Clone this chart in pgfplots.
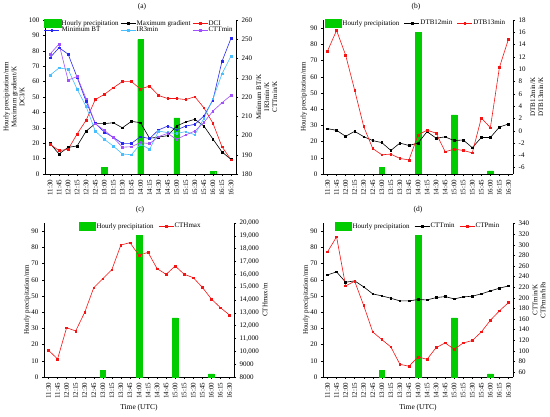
\documentclass[border=0pt]{standalone}
\usepackage{fontspec}
\setmainfont{Liberation Serif}
\usepackage{pgfplots}
\usepackage{pgfplotstable}
\pgfplotsset{compat=1.18}

\definecolor{bargreen}{RGB}{0,204,0}
\definecolor{cred}{RGB}{245,20,20}
\definecolor{cblue}{RGB}{40,40,245}
\definecolor{clblue}{RGB}{70,190,255}
\definecolor{cpurp}{RGB}{160,80,255}

\newcommand\tf{\fontsize{7}{8}\selectfont}
\newcommand\lf{\fontsize{7.5}{8.3}\selectfont}

\pgfplotstableread{
i grad dci bt ir3 ctt
0 19.9 19.3 240.4 231.3 242.3
1 13.0 15.2 245.6 235.1 247.5
2 17.3 16.0 242.3 234.4 228.8
3 18.2 26.0 230.2 224.0 230.6
4 27.9 35.0 217.6 215.0 219.0
5 32.7 48.3 206.3 202.3 206.1
6 32.7 51.7 201.8 198.0 202.7
7 33.3 56.0 199.0 194.5 198.9
8 30.0 60.0 195.9 190.4 193.9
9 34.2 60.0 195.9 190.0 194.2
10 33.3 55.2 199.4 195.6 196.3
11 23.2 57.1 198.4 192.8 195.8
12 24.0 51.0 202.9 202.3 199.4
13 24.9 49.0 204.9 201.5 201.1
14 31.2 49.0 202.9 201.1 198.0
15 33.8 48.3 204.9 202.0 200.3
16 35.5 50.2 205.8 200.4 202.3
17 31.2 43.0 210.1 208.9 206.8
18 22.7 33.0 218.4 219.0 212.7
19 14.3 17.7 238.5 232.0 217.0
20 9.5 9.3 250.5 241.3 220.9
}\tabA

\pgfplotstableread{
i dtb12 dtb13
0 0.34 12.96
1 0.07 16.3
2 -0.9 12.3
3 -0.1 6.6
4 -0.96 0.67
5 -1.6 -2.9
6 -1.93 -3.9
7 -3.2 -3.8
8 -2.0 -4.5
9 -2.4 -4.75
10 -2.0 -0.7
11 -0.15 0.1
12 -1.2 -0.4
13 -1.0 -3.4
14 -1.6 -3.0
15 -1.5 -3.2
16 -2.75 -3.6
17 -1.1 2.07
18 -1.1 0.5
19 0.6 10.3
20 1.1 14.9
}\tabB

\pgfplotstableread{
i cth
0 10078
1 9403
2 11844
3 11584
4 13039
5 14961
6 15662
7 16364
8 18286
9 18468
10 17480
11 17714
12 16442
13 16000
14 16649
15 16000
16 15740
17 14987
18 14078
19 13403
20 12831
}\tabC

\pgfplotstableread{
i ctt ctp
0 243.1 286.6
1 248.8 314.9
2 229.3 222.4
3 231.8 231.2
4 220.5 185.2
5 207.3 135.5
6 203.5 121.0
7 199.1 107.2
8 194.0 74.5
9 194.0 70.7
10 196.6 88.3
11 195.9 83.9
12 200.3 105.9
13 202.2 114.8
14 197.8 102.8
15 201.6 114.8
16 202.9 119.2
17 207.3 135.5
18 212.9 157.5
19 218.0 175.2
20 222.4 190.9
}\tabD

\pgfplotstableread{
i p
6 4.3
10 87.3
14 36.5
18 1.9
}\tabP

\pgfplotsset{
  common/.style={scale only axis, height=154pt, xmin=-0.5, xmax=20.5,
    /pgf/number format/assume math mode=true,
    scaled y ticks=false,
    tick align=outside, major tick length=2.2pt,
    tick style={black, line width=0.4pt},
    axis line style={black, line width=0.5pt},
    ticklabel style={font=\tf},
    label style={font=\tf},
    legend style={font=\tf, draw=none, fill=none, inner sep=0pt, outer sep=0pt,
      nodes={inner sep=0.7pt}, row sep=-1pt},
    legend cell align=left,
    legend image code/.code={\draw[mark repeat=2,mark phase=2,##1] plot coordinates {(0pt,0pt) (7.5pt,0pt) (15pt,0pt)};},
  },
  leftax/.style={common, axis x line*=bottom, axis y line*=left,
    xtick={0,...,20},
    xticklabels={11:30,11:45,12:00,12:15,12:30,12:45,13:00,13:15,13:30,13:45,14:00,14:15,14:30,14:45,15:00,15:15,15:30,15:45,16:00,16:15,16:30},
    x tick label style={rotate=90, anchor=east, font=\tf}},
  rightax/.style={common, axis x line=none, axis y line*=right},
  bar/.style={ybar, bar width=5.6pt, bar shift=0pt, fill=bargreen, draw=bargreen, line width=0.3pt},
  barleg/.style={fill=bargreen, draw=bargreen, legend image code/.code={\draw[##1] (0pt,-3.6pt) rectangle (16.5pt,4pt);}},
  ln/.style={line width=0.6pt, mark=square*, mark size=0.85pt, mark options={solid}},
}

\begin{document}
\begin{tikzpicture}
\useasboundingbox (0,0) rectangle (550pt,416pt);

% ---------------- (a)
\begin{axis}[leftax, at={(45pt,242pt)}, anchor=south west, width=191pt,
  xmin=-0.55, xmax=20.55, ymin=0, ymax=100, ytick={0,10,...,100},
  ylabel={Hourly precipitation/mm\\Maximum gradient/K\\DCI/K},
  ylabel style={at={(axis description cs:-0.162,0.5)}, anchor=center, align=center}]
\addplot[bar] table[x=i,y=p]{\tabP};
\addplot[ln, black] table[x=i,y=grad]{\tabA};
\addplot[ln, cred] table[x=i,y=dci]{\tabA};
\end{axis}
\begin{axis}[rightax, at={(45pt,242pt)}, anchor=south west, width=191pt,
  xmin=-0.55, xmax=20.55, ymin=180, ymax=260, ytick={180,190,...,260},
  ylabel={Minimum BT/K\\IR3min/K\\CTTmin/K},
  ylabel style={at={(axis description cs:1.162,0.5)}, anchor=center, align=center},
  legend columns=3,
  legend style={at={(axis description cs:-0.005,1.005)}, anchor=north west,
    /tikz/every even column/.append style={column sep=1pt}}]
\addlegendimage{barleg}\addlegendentry{Hourly precipitation}
\addlegendimage{ln, black}\addlegendentry{Maximum gradient}
\addlegendimage{ln, cred}\addlegendentry{DCI}
\addplot[ln, cblue] table[x=i,y=bt]{\tabA};\addlegendentry{Minimum BT}
\addplot[ln, clblue] table[x=i,y=ir3]{\tabA};\addlegendentry{IR3min}
\addplot[ln, cpurp] table[x=i,y=ctt]{\tabA};\addlegendentry{CTTmin}
\end{axis}

% ---------------- (b)
\begin{axis}[leftax, at={(323pt,242pt)}, anchor=south west, width=190pt,
  ymin=0, ymax=95.1, ytick={0,10,...,90},
  ylabel={Hourly precipitation/mm},
  ylabel style={at={(axis description cs:-0.1,0.5)}, anchor=center, align=center}]
\addplot[bar] table[x=i,y=p]{\tabP};
\end{axis}
\begin{axis}[rightax, at={(323pt,242pt)}, anchor=south west, width=190pt,
  ymin=-7.03, ymax=18, ytick={-6,-4,...,18},
  ylabel={DTB12min/K\\DTB13min/K},
  ylabel style={at={(axis description cs:1.125,0.5)}, anchor=center, align=center},
  legend columns=3,
  legend style={at={(axis description cs:0.01,1.005)}, anchor=north west,
    /tikz/every even column/.append style={column sep=4pt}}]
\addlegendimage{barleg}\addlegendentry{Hourly precipitation}
\addplot[ln, black] table[x=i,y=dtb12]{\tabB};\addlegendentry{DTB12min}
\addplot[ln, cred] table[x=i,y=dtb13]{\tabB};\addlegendentry{DTB13min}
\end{axis}

% ---------------- (c)
\begin{axis}[leftax, at={(44pt,39pt)}, anchor=south west, width=190pt,
  ymin=0, ymax=95, ytick={0,10,...,90},
  ylabel={Hourly precipitation/mm},
  ylabel style={at={(axis description cs:-0.089,0.5)}, anchor=center, align=center},
  xlabel={Time (UTC)},
  xlabel style={at={(axis description cs:0.5,-0.2)}, anchor=center, font=\lf}]
\addplot[bar] table[x=i,y=p]{\tabP};
\end{axis}
\begin{axis}[rightax, at={(44pt,39pt)}, anchor=south west, width=190pt,
  ymin=8000, ymax=20000, ytick={8000,9000,...,20000},
  /pgf/number format/1000 sep={,},
  /pgf/number format/min exponent for 1000 sep=4,
  ylabel={CTHmax/m},
  ylabel style={at={(axis description cs:1.163,0.5)}, anchor=center, align=center},
  legend columns=2,
  legend style={at={(axis description cs:0.184,1.005)}, anchor=north west,
    /tikz/every even column/.append style={column sep=4pt}}]
\addlegendimage{barleg}\addlegendentry{Hourly precipitation}
\addplot[ln, cred] table[x=i,y=cth]{\tabC};\addlegendentry{CTHmax}
\end{axis}

% ---------------- (d)
\begin{axis}[leftax, at={(323pt,39pt)}, anchor=south west, width=190pt,
  ymin=0, ymax=95, ytick={0,10,...,90},
  ylabel={Hourly precipitation/mm},
  ylabel style={at={(axis description cs:-0.089,0.5)}, anchor=center, align=center},
  xlabel={Time (UTC)},
  xlabel style={at={(axis description cs:0.5,-0.2)}, anchor=center, font=\lf}]
\addplot[bar] table[x=i,y=p]{\tabP};
\end{axis}
\begin{axis}[rightax, at={(323pt,39pt)}, anchor=south west, width=190pt,
  ymin=50.5, ymax=341, ytick={60,80,...,340},
  ylabel={CTTmin/K\\CTPmin/hPa},
  ylabel style={at={(axis description cs:1.137,0.5)}, anchor=center, align=center},
  legend columns=3,
  legend style={at={(axis description cs:0.063,1.005)}, anchor=north west,
    /tikz/every even column/.append style={column sep=4pt}}]
\addlegendimage{barleg}\addlegendentry{Hourly precipitation}
\addplot[ln, black] table[x=i,y=ctt]{\tabD};\addlegendentry{CTTmin}
\addplot[ln, cred] table[x=i,y=ctp]{\tabD};\addlegendentry{CTPmin}
\end{axis}

% titles
\node[font=\lf] at (142pt,409pt) {(a)};
\node[font=\lf] at (416pt,409pt) {(b)};
\node[font=\lf] at (140pt,206pt) {(c)};
\node[font=\lf] at (418pt,206pt) {(d)};
\end{tikzpicture}
\end{document}
